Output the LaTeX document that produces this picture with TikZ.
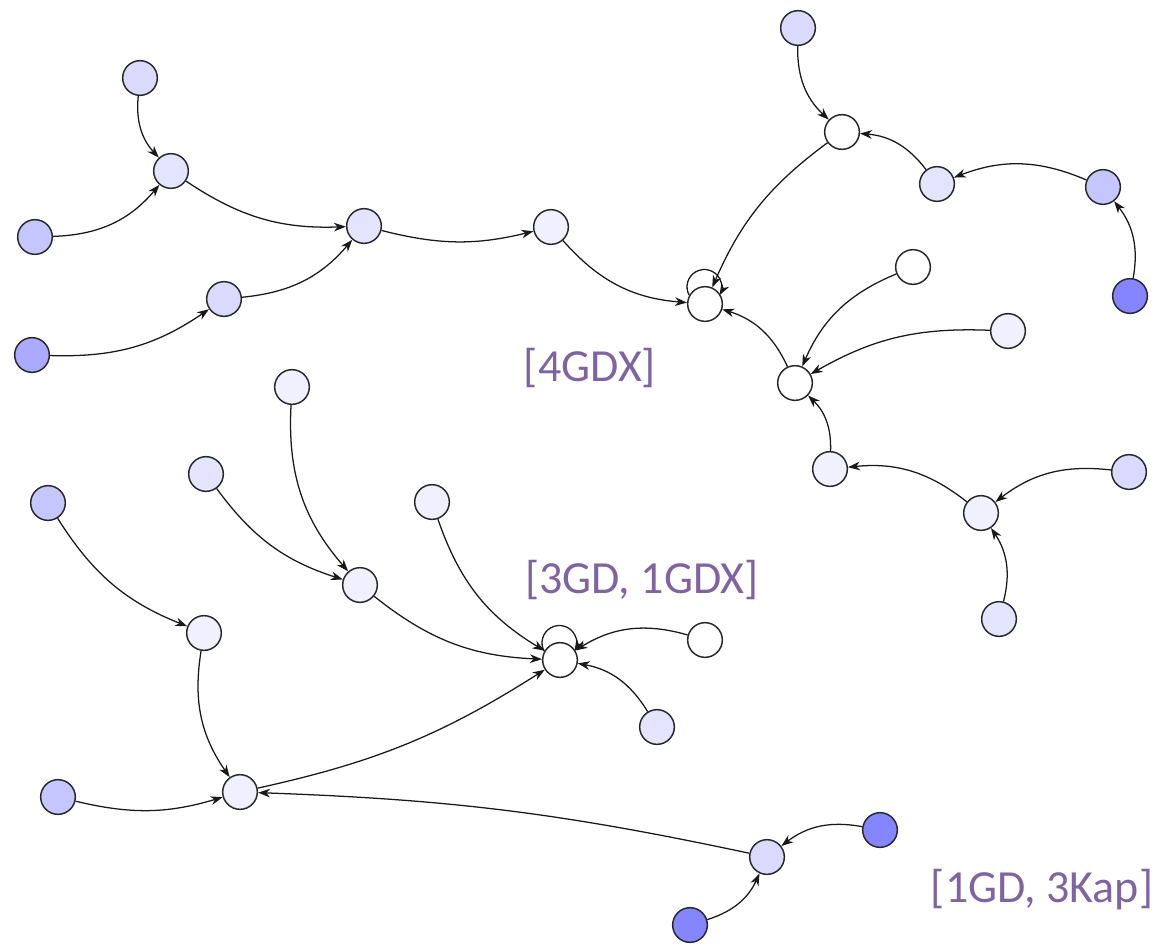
\documentclass[tikz,border=0pt]{standalone}
\usepackage{fontspec}
\setmainfont{Carlito}
\usetikzlibrary{arrows.meta}

\definecolor{lv0}{HTML}{FFFFFF}
\definecolor{lv1}{HTML}{F0F0FF}
\definecolor{lv2}{HTML}{E4E4FF}
\definecolor{lv3}{HTML}{DADAFF}
\definecolor{lv4}{HTML}{C6C6FF}
\definecolor{lv5}{HTML}{AAAAFF}
\definecolor{lv6}{HTML}{8585FF}
\definecolor{tagpurple}{HTML}{8064A2}

\tikzset{
  vtx/.style={circle, draw=black!85, line width=1.1pt, minimum size=26pt, inner sep=0pt, fill=#1},
  vtx/.default=white,
  arr/.style={draw=black!90, line width=0.95pt, -{Stealth[length=9pt,width=6.5pt,inset=2.8pt]}},
  br/.style={arr, bend right=#1},
  br/.default=24,
  tag/.style={text=tagpurple, font=\fontsize{34.5}{41}\selectfont}
}
% self loop: a circle sitting on top of the node, entering it again at the right
\newcommand{\selfloopon}[1]{%
  \draw[arr] (#1.151) arc[start angle=209, end angle=-29, radius=13pt];}

\begin{document}
\begin{tikzpicture}[x=0.75pt, y=-0.75pt]
\useasboundingbox (0,0) rectangle (1163,946);

% ---- first forest: [4GDX] ----
\node[vtx=lv3] (a1) at (140,78) {};
\node[vtx=lv2] (a2) at (171,171) {};
\node[vtx=lv4] (a3) at (35,237) {};
\node[vtx=lv2] (a4) at (364,226) {};
\node[vtx=lv3] (a5) at (224,299) {};
\node[vtx=lv5] (a6) at (32,355) {};
\node[vtx=lv1] (a7) at (551,227) {};
\node[vtx=lv0] (r1) at (705,304) {};

\node[vtx=lv3] (b1) at (798,28) {};
\node[vtx=lv0] (b2) at (842,132) {};
\node[vtx=lv2] (b3) at (937,184) {};
\node[vtx=lv4] (b4) at (1103,187) {};
\node[vtx=lv6] (b5) at (1130,296) {};

\node[vtx=lv0] (c1) at (913,267) {};
\node[vtx=lv1] (c2) at (1008,331) {};
\node[vtx=lv0] (c3) at (795,383) {};
\node[vtx=lv1] (c4) at (830,469) {};
\node[vtx=lv1] (c5) at (981,513) {};
\node[vtx=lv3] (c6) at (1129,472) {};
\node[vtx=lv2] (c7) at (999,619) {};

\draw[br] (a1) to (a2);
\draw[br] (a3) to (a2);
\draw[br=18] (a2) to (a4);
\draw[br=18] (a6) to (a5);
\draw[br=22] (a5) to (a4);
\draw[br=14] (a4) to (a7);
\draw[br=22] (a7) to (r1);
\draw[br] (b1) to (b2);
\draw[br=22] (b4) to (b3);
\draw[br] (b3) to (b2);
\draw[br] (b5) to (b4);
\draw[br=15] (b2) to (r1);
\draw[br] (c3) to (r1);
\draw[br=22] (c1) to (c3);
\draw[br=16] (c2) to (c3);
\draw[br] (c4) to (c3);
\draw[br=22] (c5) to (c4);
\draw[br=22] (c6) to (c5);
\draw[br] (c7) to (c5);
\selfloopon{r1}

\node[tag] (t1) at (590,368) {[4GDX]};

% ---- second forest: [3GD, 1GDX] ----
\node[vtx=lv1] (d1) at (292,387) {};
\node[vtx=lv2] (d2) at (206,474) {};
\node[vtx=lv4] (d3) at (48,503) {};
\node[vtx=lv1] (d4) at (432,502) {};
\node[vtx=lv1] (d5) at (360,585) {};
\node[vtx=lv1] (d6) at (204,633) {};
\node[vtx=lv0] (r2) at (560,660) {};
\node[vtx=lv0] (d7) at (705,640) {};
\node[vtx=lv2] (d8) at (657,727) {};
\node[vtx=lv1] (d9) at (240,792) {};
\node[vtx=lv4] (d10) at (58,797) {};

\draw[br=22] (d1) to (d5);
\draw[br=18] (d2) to (d5);
\draw[br=18] (d5) to (r2);
\draw[br=20] (d4) to (r2);
\draw[br] (d7) to (r2);
\draw[br] (d8) to (r2);
\draw[br=18] (d3) to (d6);
\draw[br=22] (d6) to (d9);
\draw[br=15] (d10) to (d9);
\draw[br=10] (d9) to (r2);
\selfloopon{r2}

\node[tag] (t2) at (642,580) {[3GD, 1GDX]};

% ---- third group: [1GD, 3Kap] ----
\node[vtx=lv3] (e1) at (767,857) {};
\node[vtx=lv6] (e2) at (880,830) {};
\node[vtx=lv6] (e3) at (690,925) {};

\draw[br=5] (e1) to (d9);
\draw[br] (e2) to (e1);
\draw[br] (e3) to (e1);

\node[tag] (t3) at (1042,890) {[1GD, 3Kap]};
\end{tikzpicture}
\end{document}
